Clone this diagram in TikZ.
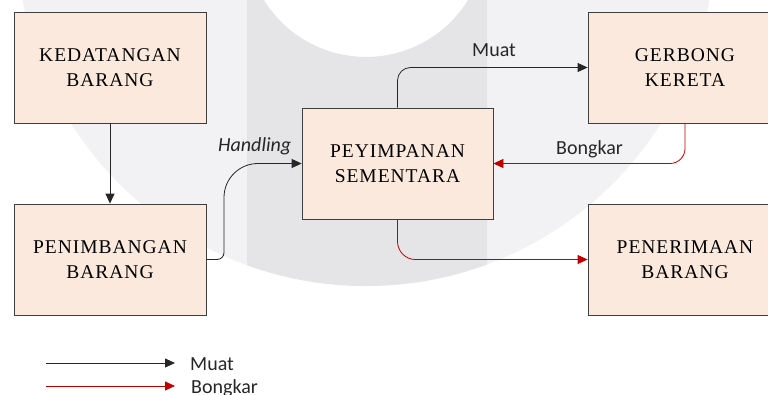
\documentclass[tikz,border=0pt]{standalone}
\usepackage{fontspec}
\setmainfont[LetterSpace=5]{Liberation Serif}
\newfontfamily\labfont{Carlito}
\usetikzlibrary{arrows.meta,calc}
\definecolor{boxfill}{HTML}{FCE9DD}
\definecolor{boxline}{HTML}{3F3F3F}
\definecolor{wmlight}{HTML}{F2F2F4}
\definecolor{wmdark}{HTML}{E5E5E8}
\definecolor{redline}{HTML}{C00000}
\definecolor{labtext}{HTML}{262626}
\tikzset{
  procbox/.style={draw=boxline, line width=0.8pt, fill=boxfill, minimum width=192pt, minimum height=111pt,
    inner sep=0pt, align=center, text=black, font=\fontsize{19.5}{25}\selectfont},
  blackconn/.style={draw=black!85, line width=0.8pt, -{Triangle[length=10pt,width=9pt]}},
  redconn/.style={draw=redline, line width=0.8pt, -{Triangle[length=10pt,width=9pt]}},
  lab/.style={inner sep=0pt, text=labtext, font=\labfont\fontsize{20}{24}\selectfont}
}
\begin{document}
\begin{tikzpicture}[x=1pt,y=-1pt]
\useasboundingbox (0,0) rectangle (768,394);
\begin{scope}
\clip (0,0) rectangle (768,394);
% watermark
\fill[wmlight, even odd rule] (366,-63) circle[radius=349] (366,-63) circle[radius=120];
\begin{scope}
\clip (247,-100) rectangle (487,400);
\fill[wmdark, even odd rule] (366,-63) circle[radius=349] (366,-63) circle[radius=120];
\end{scope}
% boxes
\node[procbox] (ked) at (110,67.5) {KEDATANGAN\\BARANG};
\node[procbox] (pen) at (110,259.5) {PENIMBANGAN\\BARANG};
\node[procbox, minimum width=191pt] (pey) at (397.5,163.5) {PEYIMPANAN\\SEMENTARA};
\node[procbox, minimum width=194pt] (ger) at (685,67.5) {GERBONG\\KERETA};
\node[procbox, minimum width=194pt] (per) at (685,259.5) {PENERIMAAN\\BARANG};
% connectors
\draw[blackconn] (ked.south) -- (pen.north);
\coordinate (hx) at (224,0);
\coordinate (hc1) at (pen.east -| hx);
\coordinate (hc2) at (pey.west -| hx);
\draw[blackconn] (pen.east) -- ($(hc1)+(-7,0)$) .. controls ($(hc1)+(-3.1,0)$) and ($(hc1)+(0,-3.1)$) .. ($(hc1)+(0,-7)$)
  -- ($(hc2)+(0,34)$) .. controls ($(hc2)+(0,15.2)$) and ($(hc2)+(15.2,0)$) .. ($(hc2)+(34,0)$) -- (pey.west);
\draw[blackconn, rounded corners=13pt] (pey.north) |- (ger.west);
\draw[redconn, rounded corners=15pt] (ger.south) |- (pey.east);
\draw[redconn, rounded corners=18pt] (pey.south) |- (per.west);
% labels
\node[lab, anchor=base west] (lhand) at (218,151) {\itshape Handling};
\node[lab, anchor=base west] (lmuat) at (472,56) {Muat};
\node[lab, anchor=base west] (lbong) at (556,154) {Bongkar};
% legend
\coordinate (lg1a) at (46,363);
\coordinate (lg1b) at (175,363);
\coordinate (lg2a) at (46,386);
\coordinate (lg2b) at (175,386);
\draw[blackconn] (lg1a) -- (lg1b);
\draw[redconn] (lg2a) -- (lg2b);
\node[lab, anchor=base west] (legmuat) at (190,370) {Muat};
\node[lab, anchor=base west] (legbong) at (191,393) {Bongkar};
\end{scope}
\end{tikzpicture}
\end{document}
